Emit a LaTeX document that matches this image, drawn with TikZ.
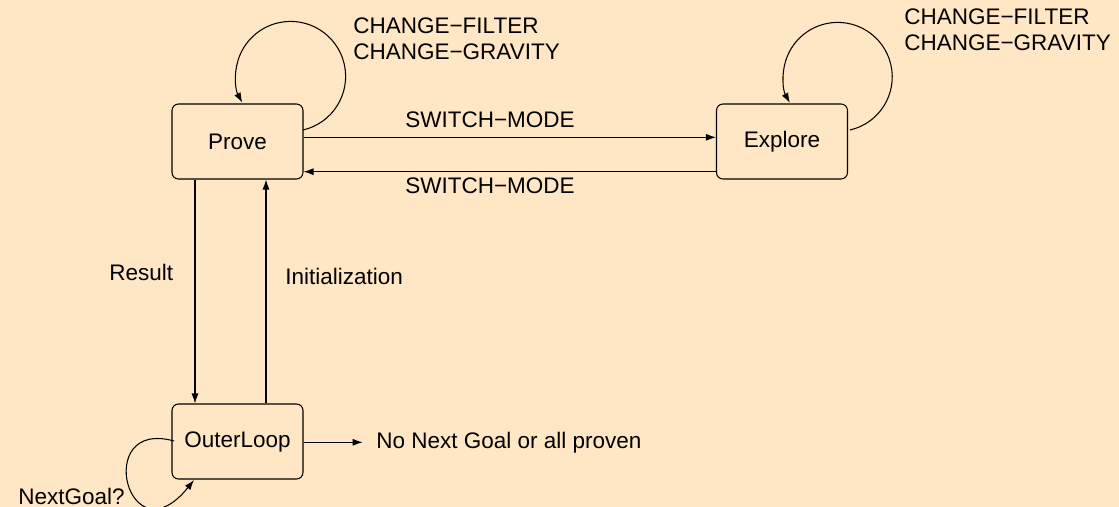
\documentclass[tikz,border=0pt]{standalone}
\usepackage{fontspec}
\setmainfont{Liberation Sans}
\usetikzlibrary{arrows.meta}
\definecolor{paper}{RGB}{255,230,196}
\tikzset{
  state/.style={draw, rounded corners=0.13cm, minimum width=2.62cm, minimum height=1.5cm,
                inner sep=0pt, line width=0.6pt},
  lbl/.style={anchor=base west, inner sep=0pt},
  conn/.style={line width=0.6pt, -{Latex[length=0.2cm, width=0.14cm]}},
}
\begin{document}
\begin{tikzpicture}[x=0.02cm, y=-0.02cm, font=\fontsize{12.8}{15}\selectfont]
  \fill[paper] (0,0) rectangle (1119,507);
  \useasboundingbox (0,0) rectangle (1119,507);

  % states
  \node[state] (prove)   at (237.5,141.5) {Prove};
  \node[state] (explore) at (782,141.5)   {Explore};
  \node[state] (outer)   at (237.5,441.5) {OuterLoop};

  % mode switches
  \draw[conn] (prove.east |- 0,137.3) -- (explore.west |- 0,137.3);
  \draw[conn] (explore.west |- 0,171.7) -- (prove.east |- 0,171.7);
  \node[lbl] (swA) at (405,127) {SWITCH\textminus MODE};
  \node[lbl] (swB) at (405,193) {SWITCH\textminus MODE};

  % self loops on Prove and Explore (y axis points down, so angles run clockwise)
  \coordinate (pS) at (303,130);
  \draw[conn] (pS) arc[start angle=77, end angle=-208.5, radius=55];
  \coordinate (eS) at (850,130);
  \draw[conn] (eS) arc[start angle=77, end angle=-208.5, radius=54.5];
  \node[lbl] (pf1) at (353,33) {CHANGE\textminus FILTER};
  \node[lbl] (pf2) at (353,59) {CHANGE\textminus GRAVITY};
  \node[lbl] (ef1) at (904,25) {CHANGE\textminus FILTER};
  \node[lbl] (ef2) at (904,51) {CHANGE\textminus GRAVITY};

  % Prove <-> OuterLoop
  \draw[conn] (prove.south -| 195,0) -- (outer.north -| 195,0);
  \draw[conn] (outer.north -| 266,0) -- (prove.south -| 266,0);
  \node[lbl] (res)  at (109,280.7) {Result};
  \node[lbl] (init) at (285,284) {Initialization};

  % exit from OuterLoop
  \coordinate (done) at (362.7,442.3);
  \draw[conn] (outer.east |- done) -- (done);
  \node[lbl] (doneL) at (376,448.3) {No Next Goal or all proven};

  % NextGoal loop
  \coordinate (nS) at (174,441);
  \coordinate (nE) at (194,480);
  \draw[conn] (nS) .. controls (92,418) and (128,562) .. (nE);
  \node[lbl] (ng) at (18,504) {NextGoal?};
\end{tikzpicture}
\end{document}
